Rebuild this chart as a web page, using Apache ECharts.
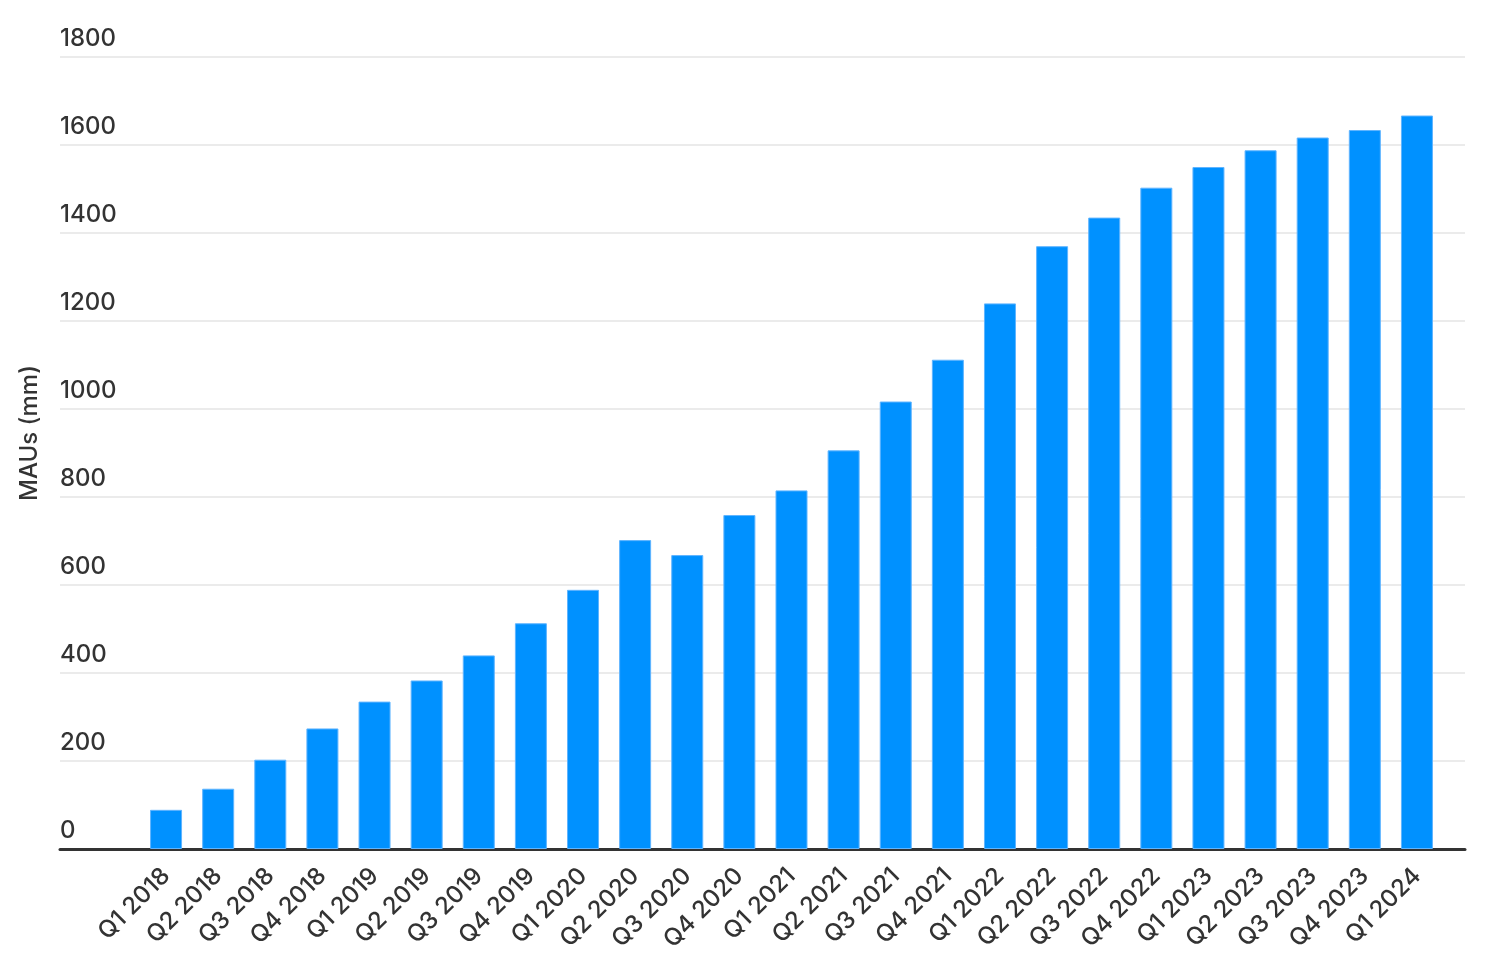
<!DOCTYPE html>
<html>
<head>
<meta charset="utf-8">
<script src="https://cdn.jsdelivr.net/npm/echarts@6/dist/echarts.min.js"></script>
<style>
  html, body { margin: 0; padding: 0; background: #fff; }
  #chart { width: 1488px; height: 974px; }
</style>
</head>
<body>
<div id="chart"></div>
<script>
// quarters on the x axis
var quarters = [
  'Q1 2018', 'Q2 2018', 'Q3 2018', 'Q4 2018',
  'Q1 2019', 'Q2 2019', 'Q3 2019', 'Q4 2019',
  'Q1 2020', 'Q2 2020', 'Q3 2020', 'Q4 2020',
  'Q1 2021', 'Q2 2021', 'Q3 2021', 'Q4 2021',
  'Q1 2022', 'Q2 2022', 'Q3 2022', 'Q4 2022',
  'Q1 2023', 'Q2 2023', 'Q3 2023', 'Q4 2023',
  'Q1 2024'
];

// monthly active users, millions
var maus = [
  89, 137, 203, 274,
  335, 383, 440, 513,
  589, 702, 668, 759,
  815, 906, 1017, 1112,
  1240, 1370, 1435, 1503,
  1550, 1588, 1617, 1634,
  1667
];

var yTicks = { min: 0, max: 1800, interval: 200 };
var yName = 'MAUs (mm)';

var font = 'Inter, "Noto Sans", sans-serif';
var textColor = '#333';

var chart = echarts.init(document.getElementById('chart'));

var option = {
  backgroundColor: '#fff',
  animation: false,
  textStyle: { fontFamily: font },
  grid: [
    // full width grid: horizontal lines, y labels, base line
    { left: 60, right: 23, top: 57, bottom: 125 },
    // narrower grid holding the bars
    { left: 140, right: 45, top: 57, bottom: 125 }
  ],
  xAxis: [{
    gridIndex: 0,
    type: 'value',
    min: 0,
    max: 1,
    axisLine: { show: true, onZero: false, lineStyle: { color: '#333', width: 3 } },
    axisTick: { show: false },
    axisLabel: { show: false },
    splitLine: { show: false }
  }, {
    gridIndex: 1,
    type: 'category',
    data: quarters,
    axisLine: { show: false },
    axisTick: { show: false },
    axisLabel: {
      rotate: 45,
      margin: 23,
      fontSize: 24,
      fontWeight: 500,
      color: textColor,
      fontFamily: font,
      interval: 0
    }
  }],
  yAxis: [{
    gridIndex: 0,
    type: 'value',
    min: yTicks.min,
    max: yTicks.max,
    interval: yTicks.interval,
    axisLine: { show: false },
    axisTick: { show: false },
    axisLabel: {
      inside: true,
      margin: 0,
      align: 'left',
      verticalAlign: 'bottom',
      padding: [0, 0, 6, 0],
      fontSize: 24,
      fontWeight: 500,
      color: textColor,
      fontFamily: font,
      formatter: function (v) { return String(v); }
    },
    splitLine: { show: true, lineStyle: { color: '#ebebeb', width: 2 } }
  }, {
    gridIndex: 1,
    type: 'value',
    min: yTicks.min,
    max: yTicks.max,
    interval: yTicks.interval,
    show: false,
    splitLine: { show: false }
  }],
  graphic: [{
    type: 'text',
    x: 30,
    y: 433,
    rotation: Math.PI / 2,
    style: {
      text: yName,
      fontSize: 24,
      fontWeight: 500,
      fontFamily: font,
      fill: textColor,
      textAlign: 'center',
      textVerticalAlign: 'middle'
    }
  }],
  series: [{
    type: 'bar',
    xAxisIndex: 1,
    yAxisIndex: 1,
    data: maus,
    barWidth: 32,
    itemStyle: {
      color: '#0091ff',
      borderColor: '#5fb4ff',
      borderWidth: 1
    }
  }]
};

chart.setOption(option);
</script>
</body>
</html>
